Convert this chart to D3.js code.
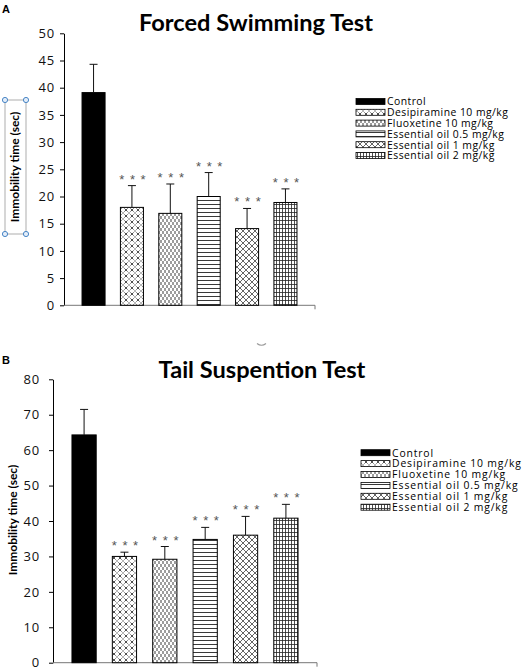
<!DOCTYPE html>
<html><head><meta charset="utf-8">
<script src="https://cdn.jsdelivr.net/npm/d3@7"></script>
<style>
html,body{margin:0;padding:0;background:#fff;}
svg{display:block;}
</style></head>
<body>
<script>
const categories = ["Control","Desipiramine 10 mg/kg","Fluoxetine 10 mg/kg","Essential oil 0.5 mg/kg","Essential oil 1 mg/kg","Essential oil 2 mg/kg"];
const fstMeans = [39.1, 18.0, 16.9, 20.0, 14.1, 18.9];
const fstErrors = [5.2, 4.0, 5.4, 4.4, 3.7, 2.5];
const tstMeans = [64.3, 30.0, 29.2, 34.8, 36.0, 40.8];
const tstErrors = [7.2, 1.2, 3.6, 3.4, 5.3, 3.9];
const significance = ["", "***", "***", "***", "***", "***"];
const fstTicks = [0,5,10,15,20,25,30,35,40,45,50];
const tstTicks = [0,10,20,30,40,50,60,70,80];

const W = 527, H = 667;
const svg = d3.select("body").append("svg").attr("width", W).attr("height", H);
svg.append("rect").attr("width", W).attr("height", H).attr("fill", "#fff");

const defs = svg.append("defs");
const ink = "#222";
function pat(id, w, h, draw){
  const p = defs.append("pattern").attr("id", id).attr("patternUnits","userSpaceOnUse")
    .attr("width", w).attr("height", h);
  p.append("rect").attr("width", w).attr("height", h).attr("fill", "#fff");
  draw(p);
}
pat("p1", 6, 6, p => p.append("path").attr("d","M0,0 l1.6,1.6 M4.4,4.4 l1.6,1.6 M6,0 l-1.6,1.6 M1.6,4.4 l-1.6,1.6 M3,2.2 v1.6")
  .attr("stroke", ink).attr("stroke-width", 0.8).attr("fill","none"));
pat("p2", 4, 6, p => p.append("path").attr("d","M1,0 v3 M3,3 v3")
  .attr("stroke", ink).attr("stroke-width", 0.9).attr("fill","none"));
pat("p3", 4, 4, p => p.append("path").attr("d","M0,0.5 h4")
  .attr("stroke", ink).attr("stroke-width", 0.9).attr("fill","none"));
pat("p4", 6, 6, p => p.append("path").attr("d","M0,0 L6,6 M6,0 L0,6")
  .attr("stroke", ink).attr("stroke-width", 0.7).attr("fill","none"));
pat("p5", 3, 4, p => p.append("path").attr("d","M0.5,0 v4 M0,0.5 h3")
  .attr("stroke", ink).attr("stroke-width", 0.8).attr("fill","none"));
const fills = ["#000", "url(#p1)", "url(#p2)", "url(#p3)", "url(#p4)", "url(#p5)"];

function drawChart(cfg){
  const g = svg.append("g");
  const x = d3.scaleBand().domain(categories).range([cfg.x0, cfg.x1]).paddingInner(0.4).paddingOuter(0.47);
  const y = d3.scaleLinear().domain([0, cfg.max]).range([cfg.yb, cfg.yt]);

  // y axis
  const ya = g.append("g").attr("transform", `translate(${cfg.x0},0)`)
    .call(d3.axisLeft(y).tickValues(cfg.ticks).tickSize(4).tickPadding(cfg.pad).tickSizeOuter(0));
  ya.select(".domain").attr("stroke", "#000");
  ya.selectAll(".tick line").attr("stroke", "#000");
  ya.selectAll("text").attr("font-family","'Open Sans', sans-serif").attr("font-size", 13)
    .attr("fill","#111").attr("letter-spacing", 0.8);

  // x axis
  g.append("line").attr("x1", cfg.x0).attr("x2", cfg.x1).attr("y1", y(0)).attr("y2", y(0)).attr("stroke", "#777");
  g.append("line").attr("x1", cfg.x1).attr("x2", cfg.x1).attr("y1", y(0)).attr("y2", y(0)+4).attr("stroke", "#777");

  // bars
  g.selectAll("rect.bar").data(categories).enter().append("rect")
    .attr("x", d => x(d)).attr("width", x.bandwidth())
    .attr("y", (d,i) => y(cfg.means[i])).attr("height", (d,i) => y(0) - y(cfg.means[i]))
    .attr("fill", (d,i) => fills[i]).attr("stroke", "#000").attr("stroke-width", 1);

  // error bars
  categories.forEach((c,i) => {
    const cx = x(c) + x.bandwidth()/2;
    const top = y(cfg.means[i] + cfg.errs[i]);
    g.append("line").attr("x1", cx).attr("x2", cx).attr("y1", y(cfg.means[i])).attr("y2", top).attr("stroke", "#111");
    g.append("line").attr("x1", cx-4).attr("x2", cx+4).attr("y1", top).attr("y2", top).attr("stroke", "#111");
    if (significance[i]) {
      g.append("text").attr("x", cx+1).attr("y", top - 2).attr("text-anchor","middle")
        .attr("font-family","'Liberation Sans', Arial, sans-serif").attr("font-size", 13).attr("fill", "#555")
        .attr("letter-spacing", 1).text(significance[i].split("").join(" "));
    }
  });

  // title
  g.append("text").attr("x", cfg.tx).attr("y", cfg.ty).attr("text-anchor","middle")
    .attr("font-family","Lato, sans-serif").attr("font-weight","bold").attr("font-size", 23.6)
    .attr("fill","#000").text(cfg.title);
  // panel label
  g.append("text").attr("x", 2).attr("y", cfg.ly).attr("font-family","'Liberation Sans', Arial, sans-serif")
    .attr("font-weight","bold").attr("font-size", 11).attr("fill","#000").text(cfg.label);

  // y label
  g.append("text").attr("transform", `translate(${cfg.ylx},${cfg.yly}) rotate(-90)`)
    .attr("text-anchor","middle").attr("font-family","Lato, sans-serif").attr("font-weight","bold")
    .attr("font-size", 12).attr("fill","#000").text("Immobility time (sec)");

  // legend
  const lg = g.append("g");
  categories.forEach((c,i) => {
    const yy = cfg.legY + i*cfg.legStep;
    lg.append("rect").attr("x", cfg.legX).attr("y", yy - 3).attr("width", 29).attr("height", 6)
      .attr("fill", fills[i]).attr("stroke","#000").attr("stroke-width", 0.8);
    lg.append("text").attr("x", cfg.legX + 31).attr("y", yy + 3.8)
      .attr("font-family","'Open Sans', sans-serif").attr("font-size", 10.4).attr("fill","#000")
      .attr("letter-spacing", cfg.legLS).text(c);
  });
  return g;
}

drawChart({x0:64, x1:315, yb:305.3, yt:33.3, max:50, ticks:fstTicks, means:fstMeans, errs:fstErrors, pad:5,
  title:"Forced Swimming Test", tx:256, ty:30.5, label:"A", ly:13, ylx:19, yly:167,
  legX:356, legY:101.5, legStep:10.8, legLS:0.45});
drawChart({x0:53, x1:317, yb:662.7, yt:379.3, max:80, ticks:tstTicks, means:tstMeans, errs:tstErrors, pad:9,
  title:"Tail Suspention Test", tx:262, ty:377.5, label:"B", ly:364, ylx:17, yly:520,
  legX:361, legY:452.7, legStep:10.9, legLS:0.85});

// selection box around first y label
const sel = svg.append("g");
sel.append("rect").attr("x",5).attr("y",100).attr("width",21).attr("height",134)
  .attr("fill","none").attr("stroke","#9a9a9a").attr("stroke-width",0.8);
[[5,100],[26,100],[5,234],[26,234]].forEach(p => sel.append("circle").attr("cx",p[0]).attr("cy",p[1]).attr("r",2.6)
  .attr("fill","#e4eefa").attr("stroke","#4a86c5").attr("stroke-width",1));
// small rotation handle remnant
svg.append("path").attr("d","M257,343.5 q4.5,3.5 9,0").attr("fill","none").attr("stroke","#999").attr("stroke-width",1.2);
</script>
</body></html>
